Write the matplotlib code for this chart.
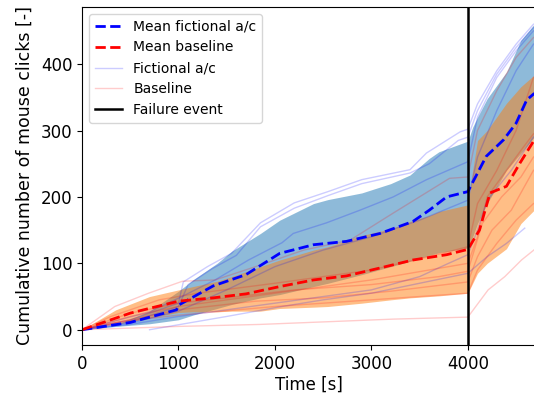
import numpy as np
import matplotlib
matplotlib.use("Agg")
import matplotlib.pyplot as plt

# ---- data ----
failure_time = 4000

band_t = [0, 350, 700, 1000, 1150, 1400, 1550, 1850, 2050, 2400, 2550, 2900,
          3200, 3400, 3600, 3700, 4000, 4050, 4100, 4200, 4400, 4550, 4700]
fict_upper = [0, 8, 28, 58, 75, 100, 118, 145, 165, 190, 196, 206,
              220, 233, 258, 268, 284, 305, 320, 348, 388, 436, 462]
fict_lower = [0, 5, 9, 15, 22, 32, 38, 48, 53, 65, 70, 83,
              95, 103, 112, 116, 123, 140, 160, 190, 240, 266, 292]
base_upper = [0, 30, 50, 60, 65, 73, 80, 95, 105, 120, 125, 142,
              152, 163, 172, 178, 188, 240, 285, 300, 341, 366, 385]
base_lower = [0, 8, 18, 26, 27, 27, 28, 28, 32, 34, 35, 40,
              45, 48, 50, 51, 55, 70, 85, 100, 122, 160, 182]

mean_fict_t = [0, 500, 980, 1000, 1360, 1700, 2050, 2400, 2740, 3090, 3430,
               3600, 3780, 4000, 4190, 4370, 4500, 4610, 4690]
mean_fict = [0, 11, 30, 37, 66, 83, 115, 128, 133, 145, 163,
             180, 200, 208, 261, 286, 311, 346, 356]
mean_base_t = [0, 500, 1000, 1360, 1700, 2050, 2400, 2740, 3090, 3430, 3780,
               4000, 4120, 4230, 4400, 4540, 4690]
mean_base = [0, 25, 43, 48, 54, 65, 75, 81, 93, 105, 113,
             121, 150, 206, 216, 251, 286]

fict_runs = [
    ([0, 500, 1000, 1050, 1300, 1550, 1850, 2200, 2550, 2900, 3400, 3570, 3920, 4000, 4100, 4300, 4500, 4680],
     [0, 15, 40, 72, 95, 115, 161, 191, 208, 226, 241, 266, 298, 302, 340, 390, 430, 460]),
    ([0, 500, 1000, 1100, 1350, 1600, 1850, 2200, 2550, 2900, 3400, 3600, 3900, 4000, 4100, 4300, 4500, 4680],
     [0, 12, 35, 68, 92, 112, 155, 183, 202, 220, 236, 250, 285, 290, 330, 385, 425, 455]),
    ([0, 700, 1036, 1380, 1726, 2073, 2190, 2535, 2881, 3226, 3572, 4000, 4100, 4300, 4500, 4680],
     [0, 27, 50, 75, 105, 131, 145, 161, 180, 200, 226, 253, 320, 380, 420, 450]),
    ([0, 500, 1000, 1500, 2000, 2500, 3000, 3500, 3800, 4000, 4100, 4200, 4450, 4680],
     [0, 8, 20, 30, 40, 50, 60, 80, 100, 113, 150, 195, 240, 290]),
    ([700, 1100, 1500, 2073, 2500, 3000, 3500, 4000, 4200, 4400, 4590],
     [0, 10, 20, 35, 45, 55, 70, 85, 110, 130, 153]),
    ([0, 500, 1000, 1500, 2000, 2500, 3000, 3500, 4000, 4100, 4300, 4500, 4680],
     [0, 10, 28, 60, 95, 120, 140, 165, 195, 260, 330, 390, 430]),
]
base_runs = [
    ([0, 1000, 1845, 3225, 4000, 4210, 4383, 4556, 4684],
     [0, 5, 8, 16, 19, 60, 80, 105, 120]),
    ([0, 340, 690, 1040, 1380, 1800, 2300, 2780, 3230, 3810, 4000, 4100, 4300, 4500, 4680],
     [0, 35, 55, 73, 75, 95, 120, 135, 176, 228, 230, 300, 360, 410, 440]),
    ([0, 500, 1000, 2000, 3000, 3600, 4000, 4100, 4200, 4400, 4550, 4680],
     [0, 20, 35, 55, 75, 90, 100, 140, 200, 240, 270, 295]),
    ([0, 500, 1000, 1800, 2500, 3200, 4000, 4100, 4250, 4450, 4680],
     [0, 15, 30, 43, 48, 58, 72, 110, 150, 180, 240]),
    ([0, 400, 1000, 2000, 3000, 4000, 4100, 4300, 4500, 4680],
     [0, 12, 22, 35, 45, 55, 90, 130, 165, 190]),
    ([0, 300, 800, 1200, 2000, 3000, 3600, 4000, 4100, 4300, 4500, 4680],
     [0, 20, 45, 55, 70, 90, 110, 125, 190, 240, 300, 380]),
    ([0, 500, 1000, 1500, 2200, 3000, 3700, 4000, 4150, 4350, 4550, 4680],
     [0, 25, 40, 48, 60, 68, 80, 88, 160, 200, 230, 260]),
]

# ---- figure ----
fig = plt.figure(figsize=(5.34, 3.99), dpi=100)
ax = fig.add_axes([0.1536, 0.1353, 0.849, 0.8472])

ax.fill_between(band_t, fict_lower, fict_upper, color="C0", alpha=0.5, lw=0)
ax.fill_between(band_t, base_lower, base_upper, color="C1", alpha=0.5, lw=0)

for i, (t, y) in enumerate(fict_runs):
    ax.plot(t, y, color="blue", alpha=0.2, lw=1,
            label="Fictional a/c" if i == 0 else None)
for i, (t, y) in enumerate(base_runs):
    ax.plot(t, y, color="red", alpha=0.2, lw=1,
            label="Baseline" if i == 0 else None)

ax.plot(mean_fict_t, mean_fict, "--", color="blue", lw=2, label="Mean fictional a/c")
ax.plot(mean_base_t, mean_base, "--", color="red", lw=2, label="Mean baseline")
ax.axvline(failure_time, color="black", lw=1.8, label="Failure event")

handles, labels = ax.get_legend_handles_labels()
order = ["Mean fictional a/c", "Mean baseline", "Fictional a/c", "Baseline", "Failure event"]
hmap = dict(zip(labels, handles))
ax.legend([hmap[k] for k in order], order, loc="upper left", fontsize=10)

ax.set_xlim(0, 4700)
ax.set_ylim(-23, 486)
ax.set_xticks([0, 1000, 2000, 3000, 4000])
ax.set_yticks([0, 100, 200, 300, 400])
ax.tick_params(labelsize=12)
ax.set_xlabel("Time [s]", fontsize=12, labelpad=2)
ax.set_ylabel("Cumulative number of mouse clicks [-]", fontsize=12.5, labelpad=5)

fig.savefig("out.png", dpi=100)
